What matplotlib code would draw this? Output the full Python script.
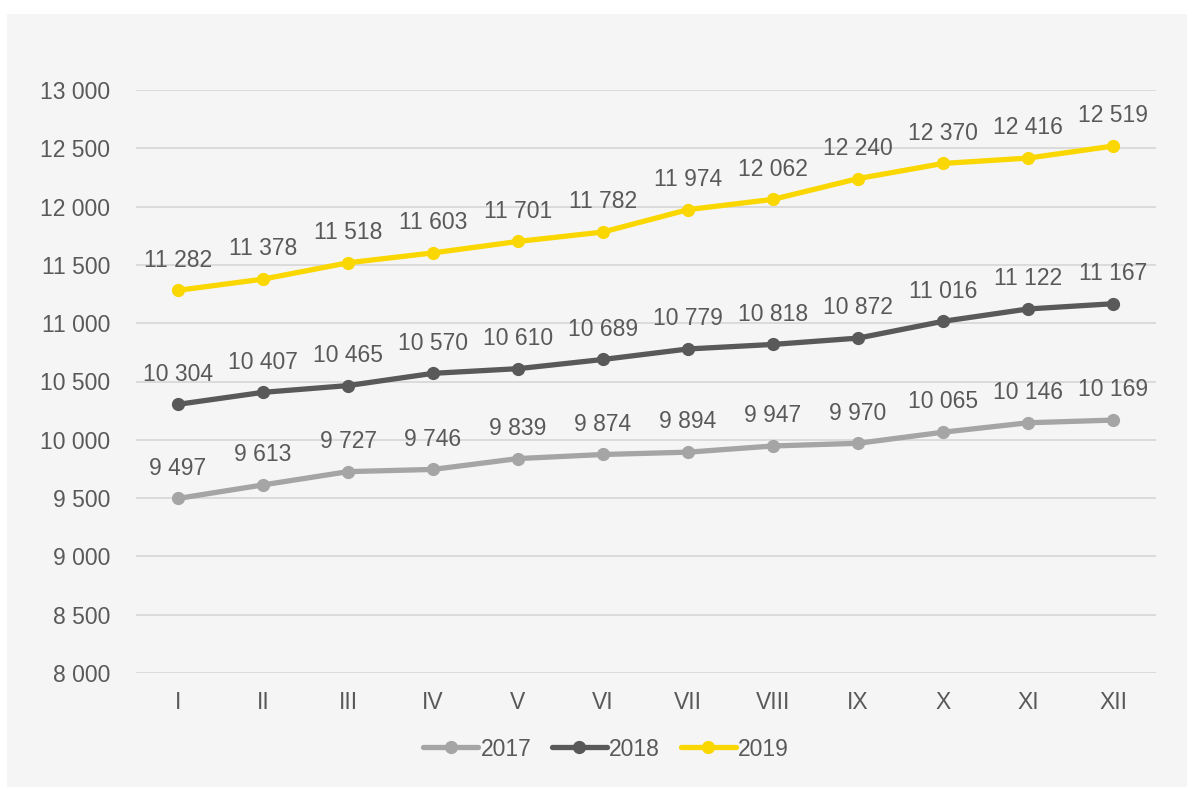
import matplotlib.pyplot as plt
from matplotlib.patches import Rectangle

months = ["I", "II", "III", "IV", "V", "VI", "VII", "VIII", "IX", "X", "XI", "XII"]
v2017 = [9497, 9613, 9727, 9746, 9839, 9874, 9894, 9947, 9970, 10065, 10146, 10169]
v2018 = [10304, 10407, 10465, 10570, 10610, 10689, 10779, 10818, 10872, 11016, 11122, 11167]
v2019 = [11282, 11378, 11518, 11603, 11701, 11782, 11974, 12062, 12240, 12370, 12416, 12519]
series = [("2017", v2017, "#a5a5a5"), ("2018", v2018, "#595959"), ("2019", v2019, "#fad700")]

plt.rcParams['font.family'] = ['Liberation Sans', 'DejaVu Sans']
txt = "#595959"
fs = 16.5


def fmt(v):
    return "{:,}".format(int(v)).replace(",", " ")


fig = plt.figure(figsize=(11.87, 7.87), dpi=100, facecolor="white")
# grey panel behind everything, white strip on top and left
fig.patches.append(Rectangle((7 / 1187, 0), 1 - 7 / 1187, 1 - 14 / 787,
                             transform=fig.transFigure, facecolor="#f5f5f5",
                             edgecolor="none", zorder=-5))
ax = fig.add_axes([135.5 / 1187, 1 - 673 / 787, 1020 / 1187, 583 / 787])
ax.set_facecolor("none")

x = list(range(len(months)))
for name, vals, col in series:
    ax.plot(x, vals, color=col, lw=3.8, marker="o", ms=8.5, label=name,
            solid_capstyle="round", zorder=3)
    for xi, v in zip(x, vals):
        ax.annotate(fmt(v), (xi, v), xytext=(0, 13.5), textcoords="offset points",
                    ha="center", va="bottom", fontsize=fs, color=txt)

ax.set_xlim(-0.5, 11.5)
ax.set_ylim(8000, 13000)
ax.set_yticks(range(8000, 13001, 500))
ax.set_yticklabels([fmt(v) for v in range(8000, 13001, 500)])
ax.set_xticks(x)
ax.set_xticklabels(months)
ax.tick_params(axis="both", length=0, labelsize=fs, labelcolor=txt)
ax.tick_params(axis="y", pad=18)
ax.tick_params(axis="x", pad=13)
ax.grid(axis="y", color="#d9d9d9", lw=1.3)
ax.set_axisbelow(True)
for s in ax.spines.values():
    s.set_visible(False)

fig.legend(loc="center", bbox_to_anchor=(606 / 1187, 1 - 749 / 787), ncol=3, frameon=False,
           fontsize=fs, labelcolor=txt, handlelength=2.4, handletextpad=0.1,
           columnspacing=0.9)

fig.savefig("out.png", dpi=100, facecolor="white")
